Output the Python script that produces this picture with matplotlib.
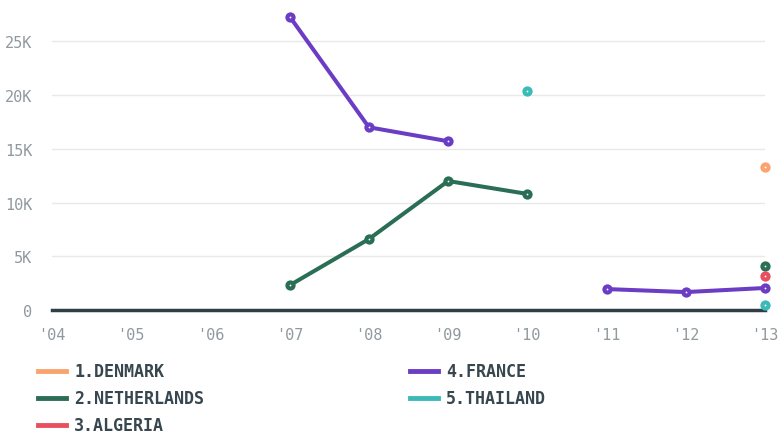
import numpy as np
import matplotlib.pyplot as plt
from matplotlib.lines import Line2D

years = [2004, 2005, 2006, 2007, 2008, 2009, 2010, 2011, 2012, 2013]
year_labels = ["'04", "'05", "'06", "'07", "'08", "'09", "'10", "'11", "'12", "'13"]

# values in thousands, None = no data
denmark = [None, None, None, None, None, None, None, None, None, 13.3]
netherlands = [None, None, None, 2.3, 6.6, 12.0, 10.8, None, None, 4.1]
algeria = [None, None, None, None, None, None, None, None, None, 3.15]
france = [None, None, None, 27.3, 17.0, 15.7, None, 1.95, 1.67, 2.05]
thailand = [None, None, None, None, None, None, 20.4, None, None, 0.45]

names = ["1.DENMARK", "2.NETHERLANDS", "3.ALGERIA", "4.FRANCE", "5.THAILAND"]
series = [denmark, netherlands, algeria, france, thailand]
colors = ["#f9a46e", "#2a6e55", "#e8505f", "#6a3dc4", "#3cbab8"]

plt.rcParams['font.family'] = ['DejaVu Sans Mono']

fig = plt.figure(figsize=(7.8, 4.35), dpi=100)
ax = fig.add_axes([0.0667, 0.285, 0.914, 0.692])

for vals, c in zip(series, colors):
    y = np.array([np.nan if v is None else v * 1000 for v in vals])
    ax.plot(years, y, color=c, lw=2.9, solid_capstyle='round', zorder=3, clip_on=False)
    ax.plot(years, y, 'o', color=c, ms=7.4, mew=0, zorder=4, clip_on=False)
    ax.plot(years, y, 'o', color='white', ms=1.3, mew=0, zorder=5, clip_on=False)

ax.set_xlim(2004, 2013)
ax.set_ylim(0, 28000)
ax.set_yticks([0, 5000, 10000, 15000, 20000, 25000])
ax.set_yticklabels(['0', '5K', '10K', '15K', '20K', '25K'])
ax.set_xticks(years)
ax.set_xticklabels(year_labels)
ax.grid(axis='y', color='#e8e8e8', lw=1)
ax.axhline(0, color='#2f3d45', lw=2.5, zorder=2, clip_on=False)
for s in ax.spines.values():
    s.set_visible(False)
ax.tick_params(length=0, labelsize=11, labelcolor='#8f999e')
ax.tick_params(axis='x', pad=12)
ax.tick_params(axis='y', pad=14)

# legend drawn by hand in two columns
col_x = [38 / 780, 410 / 780]
row_y = [1 - 372 / 435, 1 - 399 / 435, 1 - 426 / 435]
for i, (name, c) in enumerate(zip(names, colors)):
    cx = col_x[i // 3]
    ry = row_y[i % 3]
    fig.add_artist(Line2D([cx, cx + 28 / 780], [ry, ry], color=c, lw=3.5))
    fig.text(cx + 36 / 780, ry, name, fontsize=12, fontweight='bold',
             color='#38474f', va='center', ha='left')

fig.savefig('out.png', dpi=100)
